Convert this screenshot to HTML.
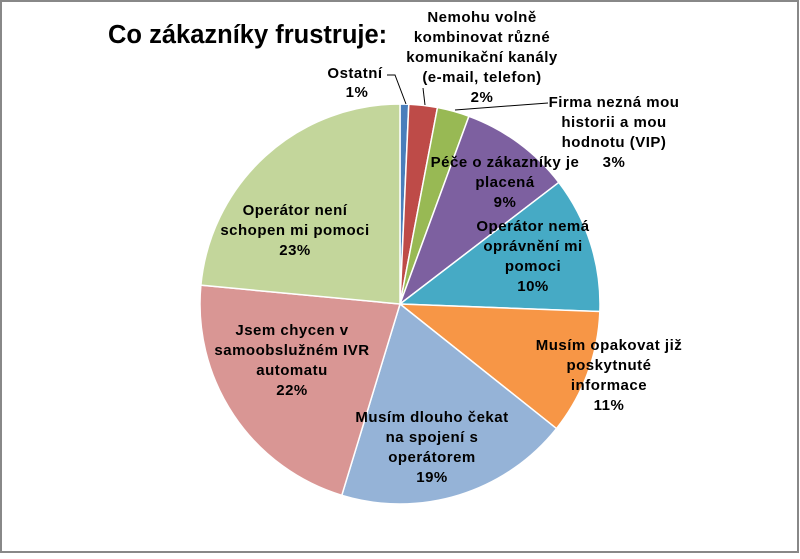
<!DOCTYPE html>
<html><head><style>
body{margin:0;background:#fff}
svg text{font-family:"Liberation Sans",sans-serif;font-weight:bold;font-size:15px;letter-spacing:0.5px;fill:#000;text-anchor:middle}
</style></head><body>
<svg width="800" height="554" viewBox="0 0 800 554">
<rect x="0" y="0" width="800" height="554" fill="#fff"/>
<rect x="1" y="1" width="797" height="551" fill="none" stroke="#888" stroke-width="2"/>
<g id="pie"></g>
<text x="108" y="43" style="font-size:25.5px;text-anchor:start;letter-spacing:0">Co zákazníky frustruje:</text>
<g>
<text x="355" y="78">Ostatní</text><text x="357" y="97">1%</text>
<text x="482" y="22">Nemohu volně</text>
<text x="482" y="42">kombinovat různé</text>
<text x="482" y="62">komunikační kanály</text>
<text x="482" y="82">(e-mail, telefon)</text>
<text x="482" y="102">2%</text>
<text x="614" y="107">Firma nezná mou</text>
<text x="614" y="127">historii a mou</text>
<text x="614" y="147">hodnotu (VIP)</text>
<text x="614" y="167">3%</text>
<text x="505" y="167">Péče o zákazníky je</text>
<text x="505" y="187">placená</text>
<text x="505" y="207">9%</text>
<text x="533" y="231">Operátor nemá</text>
<text x="533" y="251">oprávnění mi</text>
<text x="533" y="271">pomoci</text>
<text x="533" y="291">10%</text>
<text x="609" y="350">Musím opakovat již</text>
<text x="609" y="370">poskytnuté</text>
<text x="609" y="390">informace</text>
<text x="609" y="410">11%</text>
<text x="432" y="422">Musím dlouho čekat</text>
<text x="432" y="442">na spojení s</text>
<text x="432" y="462">operátorem</text>
<text x="432" y="482">19%</text>
<text x="292" y="335">Jsem chycen v</text>
<text x="292" y="355">samoobslužném IVR</text>
<text x="292" y="375">automatu</text>
<text x="292" y="395">22%</text>
<text x="295" y="215">Operátor není</text>
<text x="295" y="235">schopen mi pomoci</text>
<text x="295" y="255">23%</text>
</g>
<polyline points="387,75 395,75 406,104" fill="none" stroke="#000" stroke-width="1"/>
<line x1="423" y1="88" x2="425" y2="105" stroke="#000" stroke-width="1"/>
<line x1="455" y1="110" x2="548" y2="103" stroke="#000" stroke-width="1"/>
</svg>
<script>
var cum=[0,0.7,3.0,5.6,14.6,25.6,35.7,54.7,76.5,100];
var col=["#4A7EBB","#BE4B48","#98B954","#7D60A0","#46AAC5","#F79646","#95B3D7","#D99694","#C3D69B"];
var cx=400,cy=304,r=200,s="";
function pt(p){var a=p/100*2*Math.PI;return [cx+r*Math.sin(a),cy-r*Math.cos(a)];}
for(var i=0;i<9;i++){var a=pt(cum[i]),b=pt(cum[i+1]);var lg=(cum[i+1]-cum[i])>50?1:0;
s+='<path d="M'+cx+','+cy+' L'+a[0]+','+a[1]+' A'+r+','+r+' 0 '+lg+' 1 '+b[0]+','+b[1]+' Z" fill="'+col[i]+'" stroke="#fff" stroke-width="1.5"/>';}
document.getElementById("pie").innerHTML=s;
</script>
</body></html>
